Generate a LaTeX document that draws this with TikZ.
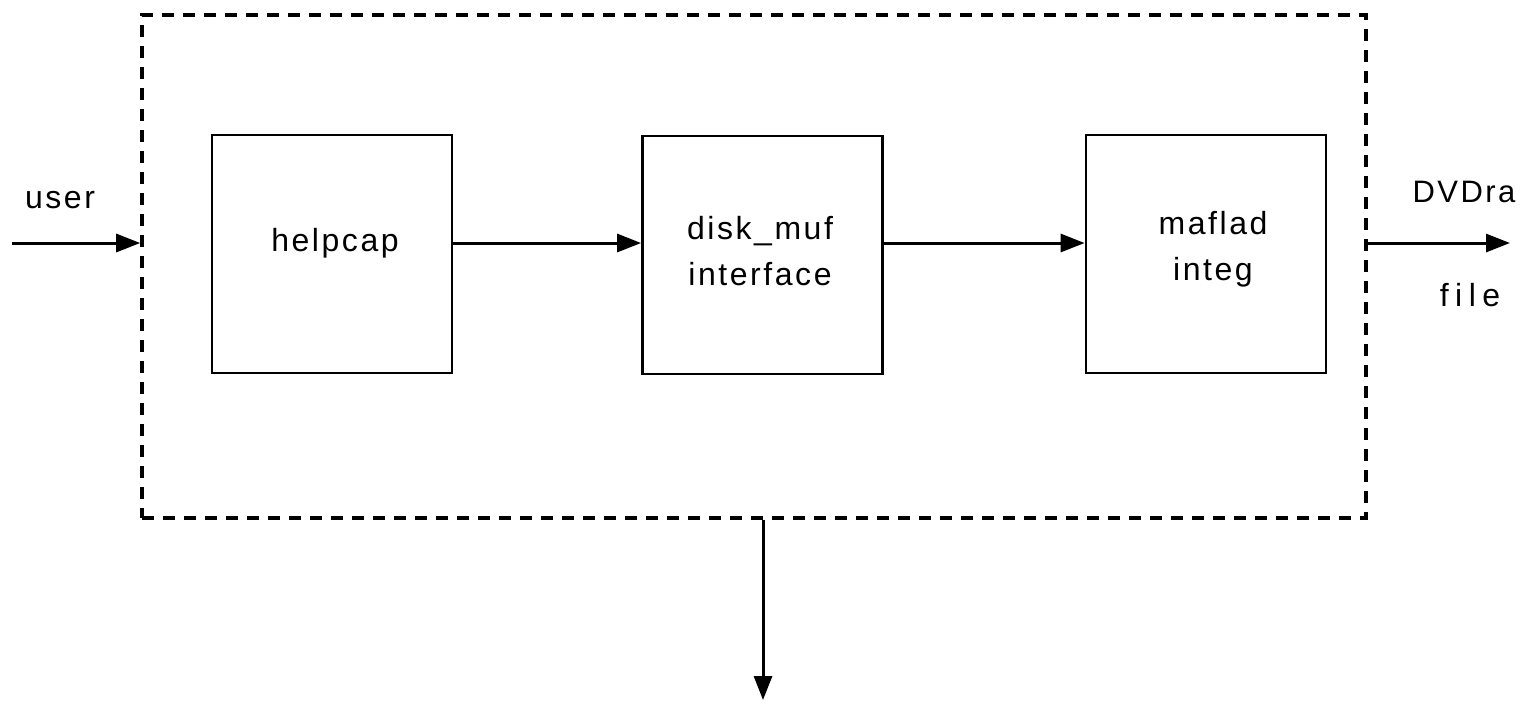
\documentclass[tikz,border=0pt]{standalone}
\usepackage{fontspec}
\setmainfont{Liberation Sans}[LetterSpace=8]
\usetikzlibrary{arrows.meta}
\begin{document}
\begin{tikzpicture}[x=0.5pt,y=-0.5pt,
  every node/.style={font=\fontsize{16}{23}\selectfont},
  blk/.style={draw,line width=1.4pt,minimum width=120pt,minimum height=119pt,inner sep=0pt},
  txt/.style={align=center,inner sep=0pt},
  frm/.style={draw,line width=1.8pt,dash pattern=on 6pt off 4.5pt,minimum width=612pt,minimum height=251.5pt,inner sep=0pt},
  arr/.style={line width=1.5pt,-{Triangle[length=12pt,width=9pt]}},
  lbl/.style={inner sep=0pt}]
\useasboundingbox (0,0) rectangle (1524,714);
\node[frm] (frame) at (754,266.5) {};
\node[blk] (b1) at (332,254) {};
\node[blk] (b2) at (762.5,255) {};
\node[blk] (b3) at (1206,254) {};
\node[txt] (t1) at (335,243) {helpcap};
\node[txt] (t2) at (760,251) {disk\_muf\\interface};
\node[txt] (t3) at (1213,249) {maflad\\integ};
\coordinate (uin) at (12,243);
\coordinate (uout) at (1510,243);
\coordinate (dout) at (763,700);
\draw[arr] (uin) -- (uin -| frame.west);
\draw[arr] ([yshift=5.5pt]b1.east) -- ([yshift=6pt]b2.west);
\draw[arr] ([yshift=6pt]b2.east) -- ([yshift=5.5pt]b3.west);
\draw[arr] (uout -| frame.east) -- (uout);
\draw[arr] (dout |- frame.south) -- (dout);
\node[lbl] (user) at (60,200) {user};
\node[lbl,font=\fontsize{15.5}{20}\selectfont] (dvd) at (1464,192) {DVDra};
\node[lbl,font=\fontsize{16}{20}\selectfont\addfontfeature{LetterSpace=20}] (file) at (1470,295) {file};
\end{tikzpicture}
\end{document}
